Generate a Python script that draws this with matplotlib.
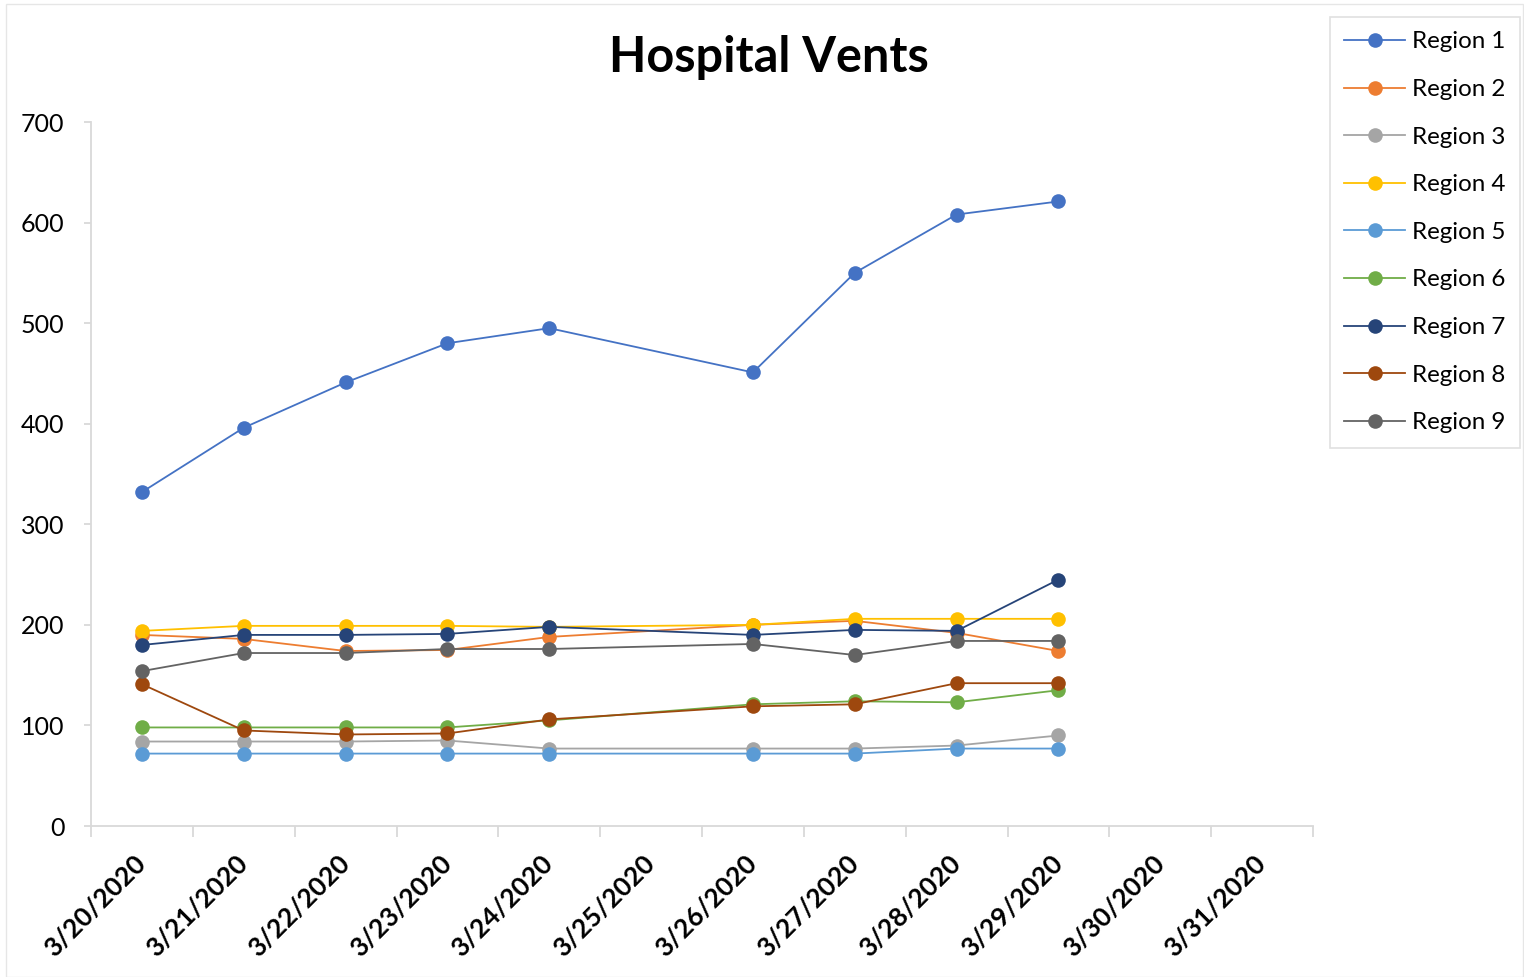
import matplotlib
matplotlib.use("Agg")
import matplotlib.pyplot as plt
from matplotlib.patches import Rectangle
import numpy as np

# categories on the x axis (3/25, 3/30, 3/31 have no data)
dates = ["3/20/2020", "3/21/2020", "3/22/2020", "3/23/2020", "3/24/2020", "3/25/2020",
         "3/26/2020", "3/27/2020", "3/28/2020", "3/29/2020", "3/30/2020", "3/31/2020"]
data_dates = ["3/20/2020", "3/21/2020", "3/22/2020", "3/23/2020", "3/24/2020",
              "3/26/2020", "3/27/2020", "3/28/2020", "3/29/2020"]

region1 = [332, 396, 441, 480, 495, 451, 550, 608, 621]
region2 = [190, 186, 174, 175, 188, 200, 204, 192, 174]
region3 = [84, 84, 84, 85, 77, 77, 77, 80, 90]
region4 = [194, 199, 199, 199, 198, 200, 206, 206, 206]
region5 = [72, 72, 72, 72, 72, 72, 72, 77, 77]
region6 = [98, 98, 98, 98, 105, 121, 124, 123, 135]
region7 = [180, 190, 190, 191, 198, 190, 195, 194, 245]
region8 = [141, 95, 91, 92, 106, 119, 121, 142, 142]
region9 = [154, 172, 172, 176, 176, 181, 170, 184, 184]

names = ["Region 1", "Region 2", "Region 3", "Region 4", "Region 5",
         "Region 6", "Region 7", "Region 8", "Region 9"]
series = [region1, region2, region3, region4, region5, region6, region7, region8, region9]
colors = ["#4472C4", "#ED7D31", "#A5A5A5", "#FFC000", "#5B9BD5",
          "#70AD47", "#264478", "#9E480E", "#636363"]

plt.rcParams['font.family'] = ['Lato', 'DejaVu Sans']

fig = plt.figure(figsize=(15.24, 9.77), dpi=100)
ax = fig.add_axes([91 / 1524, 1 - 826 / 977, (1313 - 91) / 1524, (826 - 122) / 977])

# category index for each data point, centred in its slot
xpos = [dates.index(d) + 0.5 for d in data_dates]

for name, vals, c in zip(names, series, colors):
    ax.plot(xpos, vals, color=c, lw=1.3, marker='o', markersize=10.5,
            markeredgewidth=0, label=name)

ax.set_xlim(0, len(dates))
ax.set_ylim(0, 700)
ax.set_yticks(np.arange(0, 701, 100))
ax.set_xticks(np.arange(0, len(dates) + 1))
ax.set_xticklabels([])
ax.set_xticks(np.arange(len(dates)) + 0.5, minor=True)
ax.set_xticklabels(dates, minor=True, rotation=45, ha='right', va='center',
                   rotation_mode='anchor', fontsize=19, fontweight='bold')
ax.tick_params(axis='x', which='minor', length=0, pad=24)
ax.tick_params(axis='x', which='major', length=8, color='#D9D9D9', width=1.3)
ax.tick_params(axis='y', length=5, color='#D9D9D9', width=1.3, labelsize=18, pad=14)

for s in ['top', 'right']:
    ax.spines[s].set_visible(False)
for s in ['left', 'bottom']:
    ax.spines[s].set_color('#D9D9D9')
    ax.spines[s].set_linewidth(1.3)

fig.text(769 / 1524, 1 - 58 / 977, "Hospital Vents", ha='center', va='center',
         fontsize=35, fontweight='bold')

leg = fig.legend(loc='upper right', bbox_to_anchor=(1520 / 1524, 1 - 17 / 977),
                 fontsize=17.4, frameon=True, fancybox=False, labelspacing=1.1,
                 handlelength=2.5, handletextpad=0.3, borderpad=0.6,
                 borderaxespad=0)
leg.get_frame().set_edgecolor('#D9D9D9')
leg.get_frame().set_linewidth(1.2)

# faint chart-area border
fig.patches.append(Rectangle((6 / 1524, 0), 1 - 7 / 1524, 1 - 4 / 977,
                             transform=fig.transFigure, fill=False,
                             edgecolor='#E6E6E6', lw=1))

fig.savefig("out.png", dpi=100)
